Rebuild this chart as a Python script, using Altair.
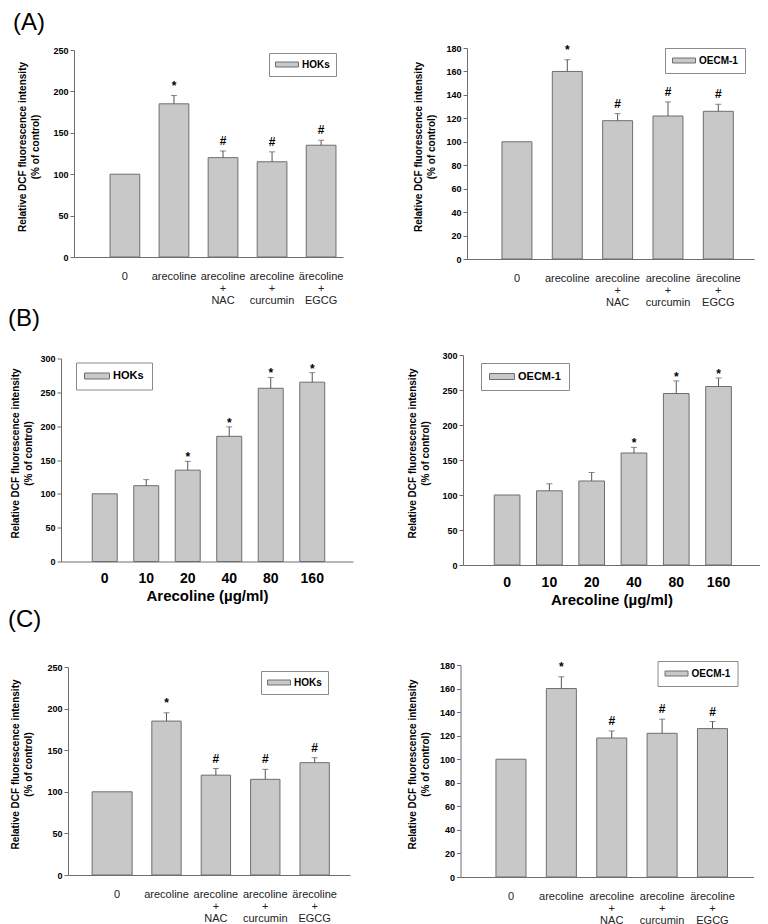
import altair as alt
import pandas as pd

FONT = "Liberation Sans"
BAR_FILL = "#c8c8c8"
BAR_STROKE = "#6e6e6e"
AXIS_COLOR = "#6e6e6e"
ERR_COLOR = "#555555"

Y_TITLE = ["Relative DCF fluorescence intensity", "(% of control)"]

# ---- data: treatments (panels A and C) ----
treat_cats = ["0", "arecoline", "arecoline + NAC", "arecoline + curcumin", "ärecoline + EGCG"]
treat_marks = ["", "*", "#", "#", "#"]
hoks_treat_vals = [100, 185, 120, 115, 135]
hoks_treat_errs = [0, 10, 8, 12, 6]
oecm_treat_vals = [100, 160, 118, 122, 126]
oecm_treat_errs = [0, 10, 6, 12, 6]

# ---- data: dose response (panel B) ----
dose_cats = ["0", "10", "20", "40", "80", "160"]
hoks_dose_vals = [100, 112, 135, 185, 256, 265]
hoks_dose_errs = [0, 9, 13, 14, 16, 14]
hoks_dose_marks = ["", "", "*", "*", "*", "*"]
oecm_dose_vals = [100, 106, 120, 160, 245, 255]
oecm_dose_errs = [0, 10, 12, 8, 18, 12]
oecm_dose_marks = ["", "", "", "*", "*", "*"]

y250 = [0, 50, 100, 150, 200, 250]
y180 = [0, 20, 40, 60, 80, 100, 120, 140, 160, 180]
y300 = [0, 50, 100, 150, 200, 250, 300]


def make_legend(w, h, fs, pad, lx, ly):
    k = 5.0  # sqrt(symbolSize)/2
    hw, hh = w / 2 / k, h / 2 / k
    path = f"M{-hw:.3f},{-hh:.3f}H{hw:.3f}V{hh:.3f}H{-hw:.3f}Z"
    return alt.Legend(
        orient="none", legendX=lx, legendY=ly, title=None,
        symbolType=path, symbolSize=100, symbolOffset=w / 2 - 5,
        symbolStrokeColor=BAR_STROKE, symbolStrokeWidth=1,
        labelOffset=w / 2 - 2, labelFont=FONT, labelFontSize=fs,
        labelFontWeight="bold", labelColor="black",
        fillColor="white", strokeColor="#8a8a8a", padding=pad,
    )


def treat_xaxis():
    return alt.Axis(
        title=None, labelExpr="split(datum.label, ' ')", labelAngle=0,
        labelFont=FONT, labelFontSize=11, labelLineHeight=12, labelColor="#222",
        labelPadding=13, ticks=False, tickSize=0, labelOverlap=False,
        domainColor=AXIS_COLOR, grid=False,
    )


def dose_xaxis():
    return alt.Axis(
        title="Arecoline (µg/ml)", labelAngle=0, labelFont=FONT,
        labelFontSize=14, labelFontWeight="bold", labelColor="black",
        labelPadding=10, ticks=False, tickSize=0, labelOverlap=False,
        titleFont=FONT, titleFontSize=15, titleFontWeight="bold",
        titleColor="black", titlePadding=3, domainColor=AXIS_COLOR, grid=False,
    )


def panel(cats, vals, errs, marks, series, W, H, ymax, yvals, pi, po, al,
          leg, title_x, xaxis, mark_dy, first_bar=None):
    df = pd.DataFrame({"cat": cats, "val": vals, "err": errs,
                       "mark": marks, "series": [series] * len(cats)})
    yaxis = alt.Axis(
        values=yvals, title=Y_TITLE, titleX=title_x, titleY=H / 2 - 7,
        titleFont=FONT, titleFontSize=10, titleFontWeight="bold",
        titleLineHeight=13, titleColor="black",
        labelFont=FONT, labelFontSize=9, labelFontWeight="bold",
        labelColor="black", tickSize=4, labelPadding=2, grid=False,
        domainColor=AXIS_COLOR, tickColor=AXIS_COLOR,
    )
    xenc = alt.X("cat:N", sort=cats,
                 scale=alt.Scale(paddingInner=pi, paddingOuter=po, align=al),
                 axis=xaxis)
    ysc = alt.Scale(domain=[0, ymax], nice=False)
    base = alt.Chart(df)
    color = alt.Color("series:N", scale=alt.Scale(range=[BAR_FILL]), legend=leg)
    layers = []
    if first_bar is None:
        layers.append(base.mark_bar(stroke=BAR_STROKE, strokeWidth=1).encode(
            x=xenc, y=alt.Y("val:Q", scale=ysc, axis=yaxis), color=color))
    else:
        bw, xo = first_bar
        layers.append(base.transform_filter(alt.datum.cat != cats[0]).mark_bar(
            stroke=BAR_STROKE, strokeWidth=1).encode(
            x=xenc, y=alt.Y("val:Q", scale=ysc, axis=yaxis), color=color))
        layers.append(base.transform_filter(alt.datum.cat == cats[0]).mark_bar(
            stroke=BAR_STROKE, strokeWidth=1, fill=BAR_FILL, width=bw, xOffset=xo).encode(
            x=xenc, y=alt.Y("val:Q", scale=ysc, axis=yaxis)))
    eb = base.transform_filter("datum.err > 0").transform_calculate(top="datum.val + datum.err")
    layers.append(eb.mark_rule(color=ERR_COLOR, strokeWidth=1).encode(
        x=xenc, y=alt.Y("val:Q", scale=ysc, axis=yaxis), y2="top:Q"))
    layers.append(eb.mark_tick(orient="horizontal", size=6, thickness=1, color=ERR_COLOR).encode(
        x=xenc, y=alt.Y("top:Q", scale=ysc, axis=yaxis)))
    layers.append(eb.transform_filter("datum.mark != ''").mark_text(
        font=FONT, fontSize=12, fontWeight="bold", color="black",
        baseline="alphabetic", dy=mark_dy).encode(
        x=xenc, y=alt.Y("top:Q", scale=ysc, axis=yaxis), text="mark:N"))
    return alt.layer(*layers).properties(width=W, height=H)


def spacer(w):
    return alt.Chart(pd.DataFrame({"s": [0]})).mark_rect(opacity=0).encode(
        x=alt.value(0), x2=alt.value(w), y=alt.value(0), y2=alt.value(1)
    ).properties(width=w, height=1)


# Row A
a_left = panel(treat_cats, hoks_treat_vals, hoks_treat_errs, treat_marks, "HOKs",
               269, 207, 250, y250, 0.394, 0.439, 0.837,
               make_legend(23, 5, 10, 6, 195, 3), -47, treat_xaxis(), -6)
a_right = panel(treat_cats, oecm_treat_vals, oecm_treat_errs, treat_marks, "OECM-1",
                287, 211, 180, y180, 0.405, 0.553, 0.628,
                make_legend(23, 5, 10, 7, 198, 0), -43.5, treat_xaxis(), -6)
# Row B
b_left = panel(dose_cats, hoks_dose_vals, hoks_dose_errs, hoks_dose_marks, "HOKs",
               292, 203, 300, y300, 0.398, 0.717, 0.525,
               make_legend(25, 6, 11, 8, 15, 4), -41, dose_xaxis(), 0)
b_right = panel(dose_cats, oecm_dose_vals, oecm_dose_errs, oecm_dose_marks, "OECM-1",
                297, 210, 300, y300, 0.393, 0.708, 0.522,
                make_legend(25, 6, 11, 8, 18, 8), -46, dose_xaxis(), 0)
# Row C
c_left = panel(treat_cats, hoks_treat_vals, hoks_treat_errs, treat_marks, "HOKs",
               282, 208, 250, y250, 0.406, 0.558, 0.625,
               make_legend(23, 5, 10, 6, 193, 4), -47.5, treat_xaxis(), -6,
               first_bar=(40, -5))
c_right = panel(treat_cats, oecm_treat_vals, oecm_treat_errs, treat_marks, "OECM-1",
                293, 212, 180, y180, 0.404, 0.61, 0.577,
                make_legend(23, 5, 10, 7, 197, -4), -43.5, treat_xaxis(), -6)


def row(left, right, label, spacing, lead, dx, offset):
    inner = alt.hconcat(left, right, spacing=spacing, center=True).resolve_scale(
        color="independent").resolve_legend(color="independent")
    return alt.hconcat(spacer(lead), inner, spacing=0).properties(
        title=alt.TitleParams(text=label, anchor="start", font=FONT, fontSize=24,
                              fontWeight="normal", color="black", dx=dx, offset=offset)
    ).resolve_scale(color="independent").resolve_legend(color="independent")


row_a = row(a_left, a_right, "(A)", 70, 8, 5, 9)
row_b = row(b_left, b_right, "(B)", 53, 1, 0, 20)
row_c = row(c_left, c_right, "(C)", 56.5, 2, 0, 29)

chart = alt.vconcat(row_a, row_b, row_c, spacing=0).resolve_scale(
    color="independent").resolve_legend(color="independent").properties(
    padding={"left": 0, "top": 2, "right": 0, "bottom": 0}
).configure_view(stroke=None)

chart.save("out.html", embed_options={"renderer": "svg", "actions": False})
